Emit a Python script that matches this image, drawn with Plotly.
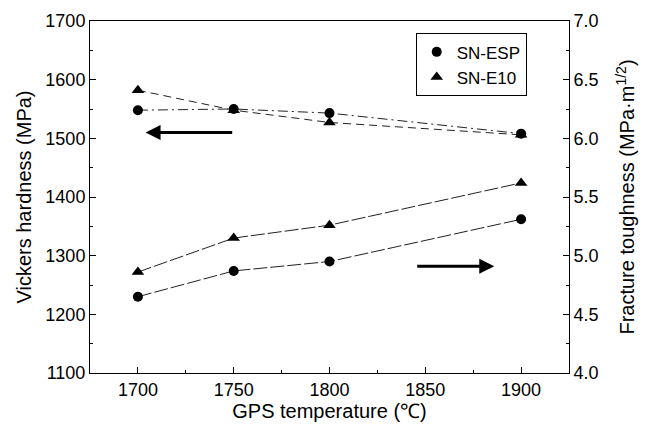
import plotly.graph_objects as go

temps = [1700, 1750, 1800, 1900]
hv_esp = [1548, 1550, 1543, 1508]
hv_e10 = [1582, 1548, 1527, 1506]
kic_esp = [4.65, 4.87, 4.95, 5.31]
kic_e10 = [4.86, 5.15, 5.26, 5.62]

FONT = "Liberation Sans, Arial, sans-serif"
BLK = "black"

fig = go.Figure()
# Hardness (left axis)
fig.add_trace(go.Scatter(x=temps, y=hv_esp, mode="lines+markers", showlegend=False,
                         line=dict(color="#222", width=1, dash="10px,4px,2px,4px"),
                         marker=dict(symbol="circle", size=10, color=BLK)))
fig.add_trace(go.Scatter(x=temps, y=hv_e10, mode="lines+markers", showlegend=False,
                         line=dict(color="#222", width=1, dash="8px,5px"),
                         marker=dict(symbol="triangle-up", size=11, color=BLK)))
# Toughness (right axis)
fig.add_trace(go.Scatter(x=temps, y=kic_esp, mode="lines+markers", showlegend=False, yaxis="y2",
                         line=dict(color="#222", width=1, dash="14px,3px"),
                         marker=dict(symbol="circle", size=10, color=BLK)))
fig.add_trace(go.Scatter(x=temps, y=kic_e10, mode="lines+markers", showlegend=False, yaxis="y2",
                         line=dict(color="#222", width=1, dash="14px,3px"),
                         marker=dict(symbol="triangle-up", size=11, color=BLK)))
# Legend entries
fig.add_trace(go.Scatter(x=[None], y=[None], mode="markers", name="SN-ESP",
                         marker=dict(symbol="circle", size=10, color=BLK)))
fig.add_trace(go.Scatter(x=[None], y=[None], mode="markers", name="SN-E10",
                         marker=dict(symbol="triangle-up", size=11, color=BLK)))

axis_common = dict(showgrid=False, zeroline=False, showline=True, linecolor=BLK, linewidth=1,
                   ticks="inside", ticklen=6, tickcolor=BLK, tickwidth=1,
                   tickfont=dict(family=FONT, size=18, color=BLK))

# The page body has an 8px margin, so the figure is shifted by 8px; compensate.
fig.update_layout(
    width=642, height=420,
    margin=dict(l=82, r=81, t=13, b=55),
    paper_bgcolor="white", plot_bgcolor="white",
    font=dict(family=FONT, size=18, color=BLK),
    xaxis=dict(range=[1675, 1925], tickvals=[1700, 1750, 1800, 1850, 1900], mirror=True,
               minor=dict(dtick=25, tick0=1675, ticks="inside", ticklen=3, tickcolor=BLK),
               title=dict(text="GPS temperature (℃)", font=dict(family=FONT, size=20), standoff=4),
               automargin=False, **axis_common),
    yaxis=dict(range=[1100, 1700], dtick=100,
               minor=dict(dtick=50, ticks="inside", ticklen=3, tickcolor=BLK),
               title=dict(text="Vickers hardness (MPa)", font=dict(family=FONT, size=20), standoff=8),
               automargin=False, **axis_common),
    yaxis2=dict(range=[4.0, 7.0], dtick=0.5, tickformat=".1f", overlaying="y", side="right",
                minor=dict(dtick=0.25, ticks="inside", ticklen=3, tickcolor=BLK),
                title=dict(text="Fracture toughness (MPa·m<sup>1/2</sup>)", font=dict(family=FONT, size=20), standoff=22),
                automargin=False, **axis_common),
    legend=dict(x=0.68, y=0.965, xanchor="left", yanchor="top", bordercolor=BLK, borderwidth=1,
                bgcolor="white", itemwidth=30, font=dict(family=FONT, size=17, color=BLK),
                tracegroupgap=0, itemsizing="trace"),
    annotations=[
        dict(x=1704, y=1510, ax=1750, ay=1510, xref="x", yref="y", axref="x", ayref="y",
             showarrow=True, arrowhead=2, arrowsize=1, arrowwidth=3, arrowcolor=BLK, text=""),
        dict(x=1886, y=4.91, ax=1845, ay=4.91, xref="x", yref="y2", axref="x", ayref="y2",
             showarrow=True, arrowhead=2, arrowsize=1, arrowwidth=3, arrowcolor=BLK, text=""),
    ],
)

fig.write_html("out.html")
